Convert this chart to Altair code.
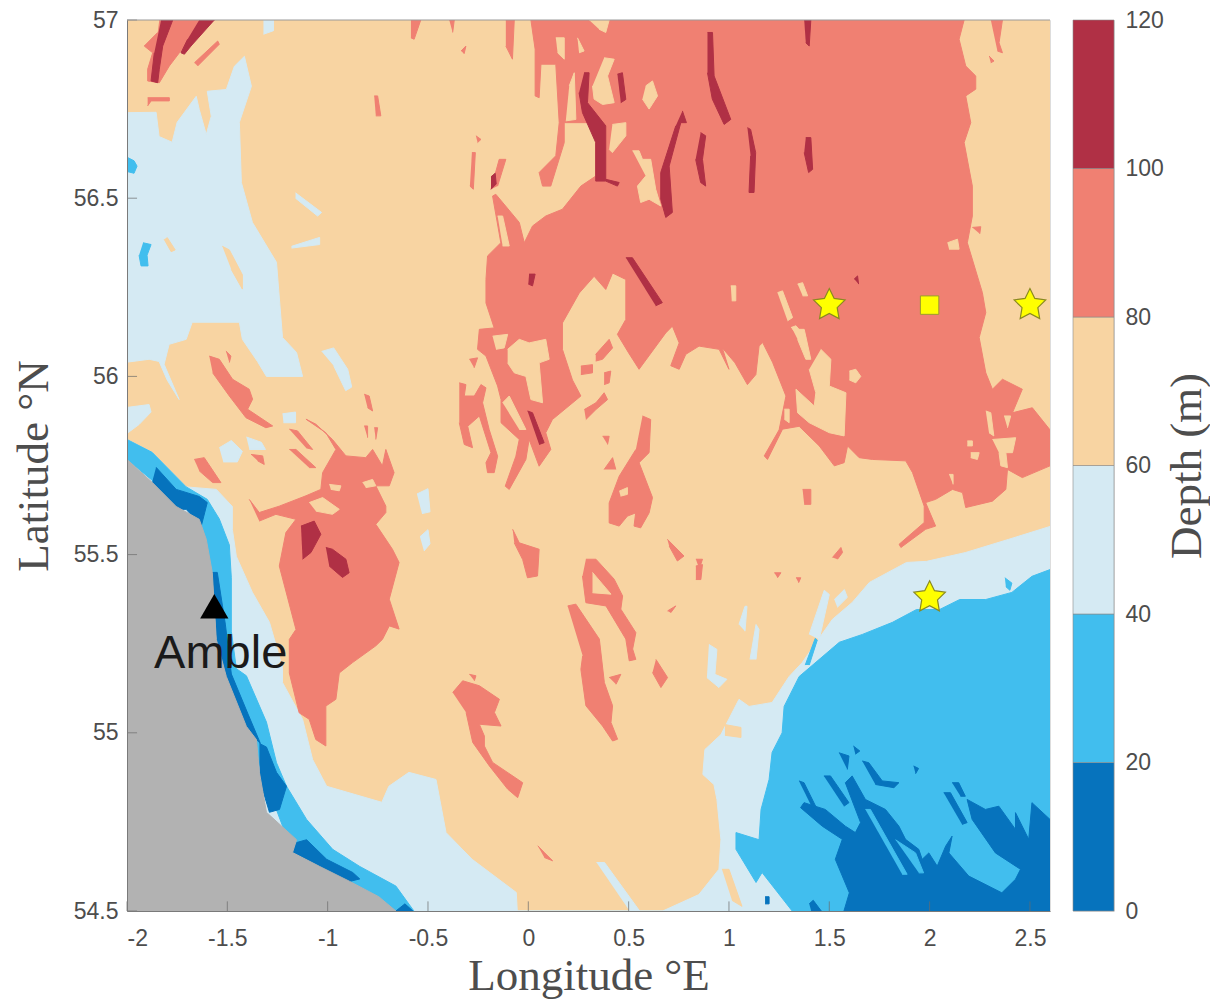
import altair as alt
import pandas as pd

PEACH = "#F8D4A2"
SALMON = "#F08072"
CRIMSON = "#B03045"
PALE = "#D5EAF3"
SKY = "#41BEEE"
DEEP = "#0673BD"
LAND = "#B2B2B2"

BASE_60_80 = [[(-2, 54.5), (2.6, 54.5), (2.6, 57), (-2, 57)]]

BAND_40_60 = [
    [(-2, 56.74), (-1.855, 56.741), (-1.84, 56.673), (-1.775, 56.657), (-1.75, 56.713), (-1.655, 56.786), (-1.64, 56.749), (-1.605, 56.679), (-1.58, 56.73), (-1.6, 56.80), (-1.505, 56.805), (-1.465, 56.87), (-1.415, 56.898), (-1.38, 56.814), (-1.44, 56.713), (-1.43, 56.544), (-1.375, 56.432), (-1.255, 56.32), (-1.225, 56.109), (-1.155, 56.067), (-1.125, 56.0), (-1.305, 56.0), (-1.35, 56.042), (-1.425, 56.104), (-1.44, 56.152), (-1.675, 56.152), (-1.705, 56.104), (-1.79, 56.09), (-1.815, 56.034), (-1.74, 55.935), (-1.80, 55.99), (-1.84, 56.042), (-1.89, 56.048), (-2, 56.04)],
    [(-2, 55.913), (-1.89, 55.921), (-1.88, 55.90), (-1.94, 55.865), (-2, 55.84)],
    [(-2, 55.823), (-1.875, 55.787), (-1.705, 55.69), (-1.555, 55.683), (-1.475, 55.635), (-1.475, 55.571), (-1.455, 55.495), (-1.375, 55.394), (-1.29, 55.31), (-1.225, 55.183), (-1.225, 55.141), (-1.125, 55.038), (-1.075, 54.925), (-1.005, 54.85), (-0.73, 54.805), (-0.695, 54.85), (-0.595, 54.889), (-0.46, 54.869), (-0.41, 54.72), (-0.28, 54.645), (-0.06, 54.552), (-0.055, 54.5), (0.67, 54.5), (0.85, 54.546), (0.95, 54.617), (0.96, 54.70), (0.94, 54.813), (0.925, 54.855), (0.87, 54.883), (0.88, 54.953), (0.96, 54.995), (1.05, 55.094), (1.10, 55.074), (1.215, 55.085), (1.30, 55.158), (1.365, 55.197), (1.515, 55.318), (1.615, 55.366), (1.70, 55.422), (1.885, 55.478), (1.985, 55.481), (2.18, 55.506), (2.395, 55.543), (2.6, 55.579), (2.6, 54.5), (-2, 54.5)],
    [(0.90, 55.248), (0.94, 55.234), (0.93, 55.164), (0.99, 55.15), (0.95, 55.127), (0.89, 55.155)],
    [(1.05, 55.304), (1.08, 55.355), (1.09, 55.355), (1.08, 55.285)],
    [(1.105, 55.206), (1.135, 55.304), (1.15, 55.29), (1.135, 55.206)],
    [(1.40, 55.276), (1.475, 55.40), (1.50, 55.388), (1.45, 55.262)],
    [(1.525, 55.374), (1.575, 55.402), (1.59, 55.38), (1.54, 55.352)],
    [(0.34, 54.636), (0.38, 54.636), (0.555, 54.5), (0.505, 54.5)],
    [(-1.54, 55.80), (-1.48, 55.82), (-1.425, 55.79), (-1.45, 55.76), (-1.52, 55.76)],
    [(-1.405, 55.83), (-1.33, 55.815), (-1.31, 55.795), (-1.39, 55.795)],
    [(-1.03, 56.07), (-0.97, 56.08), (-0.90, 56.02), (-0.88, 55.97), (-0.91, 55.96), (-0.97, 56.03)],
    [(-0.555, 55.67), (-0.50, 55.685), (-0.49, 55.62), (-0.53, 55.615)],
    [(-0.54, 55.55), (-0.50, 55.57), (-0.49, 55.53), (-0.52, 55.51)],
    [(-1.225, 55.895), (-1.16, 55.90), (-1.16, 55.87), (-1.22, 55.87)],
    [(-1.16, 56.515), (-1.03, 56.46), (-1.05, 56.45), (-1.16, 56.50)],
    [(-1.18, 56.365), (-1.04, 56.39), (-1.04, 56.37), (-1.18, 56.36)],
    [(-1.32, 57), (-1.27, 57), (-1.27, 56.97), (-1.32, 56.96)],
]

PEACH_ON_PALE = [
    [(-1.525, 56.365), (-1.49, 56.355), (-1.425, 56.285), (-1.425, 56.245), (-1.48, 56.30)],
    [(-1.80, 56.39), (-1.76, 56.355), (-1.78, 56.35), (-1.815, 56.385)],
    [(0.98, 55.023), (1.06, 55.015), (1.06, 54.987), (0.98, 54.993)],
    [(0.965, 54.617), (1.0, 54.617), (1.065, 54.513), (1.015, 54.53)],
]

BAND_20_40 = [
    [(-2, 55.823), (-1.875, 55.787), (-1.705, 55.69), (-1.60, 55.655), (-1.54, 55.60), (-1.49, 55.527), (-1.48, 55.435), (-1.48, 55.285), (-1.455, 55.18), (-1.405, 55.16), (-1.305, 55.03), (-1.255, 54.916), (-1.205, 54.85), (-1.105, 54.757), (-0.975, 54.673), (-0.84, 54.625), (-0.66, 54.57), (-0.57, 54.5), (-0.66, 54.5), (-1.175, 54.664), (-1.505, 55.158), (-1.64, 55.599), (-2, 55.767)],
    [(2.6, 55.458), (2.51, 55.439), (2.41, 55.394), (2.28, 55.374), (2.15, 55.374), (2.05, 55.346), (1.935, 55.346), (1.815, 55.31), (1.665, 55.276), (1.55, 55.254), (1.35, 55.158), (1.275, 55.074), (1.265, 55.0), (1.215, 54.945), (1.20, 54.869), (1.16, 54.785), (1.15, 54.70), (1.035, 54.72), (1.035, 54.673), (1.135, 54.58), (1.165, 54.608), (1.315, 54.5), (2.6, 54.5)],
    [(-2, 56.615), (-1.965, 56.605), (-1.95, 56.59), (-1.965, 56.57), (-2, 56.575)],
    [(-1.92, 56.375), (-1.88, 56.37), (-1.90, 56.34), (-1.895, 56.31), (-1.93, 56.31), (-1.94, 56.34)],
    [(2.375, 55.435), (2.41, 55.42), (2.40, 55.40), (2.38, 55.41)],
    [(1.38, 55.19), (1.43, 55.265), (1.44, 55.26), (1.40, 55.19)],
]

BAND_0_20 = [
    [(-1.855, 55.745), (-1.755, 55.683), (-1.64, 55.663), (-1.60, 55.646), (-1.63, 55.58), (-1.705, 55.627), (-1.79, 55.627), (-1.875, 55.703)],
    [(-1.575, 55.45), (-1.55, 55.45), (-1.51, 55.305), (-1.48, 55.165), (-1.395, 55.05), (-1.335, 54.97), (-1.355, 54.981), (-1.405, 55.018), (-1.505, 55.158), (-1.555, 55.262)],
    [(-1.34, 54.97), (-1.305, 54.96), (-1.255, 54.889), (-1.205, 54.85), (-1.24, 54.785), (-1.29, 54.777), (-1.34, 54.87)],
    [(-1.175, 54.664), (-1.155, 54.692), (-1.105, 54.70), (-1.005, 54.645), (-0.875, 54.608), (-0.84, 54.59), (-0.89, 54.583), (-1.04, 54.625)],
    [(-0.66, 54.5), (-0.615, 54.52), (-0.575, 54.5)],
    [(1.573, 54.5), (1.60, 54.551), (1.53, 54.645), (1.565, 54.701), (1.465, 54.738), (1.357, 54.79), (1.374, 54.804), (1.48, 54.785), (1.58, 54.738), (1.63, 54.72), (1.656, 54.748), (1.58, 54.86), (1.614, 54.879), (1.68, 54.813), (1.78, 54.785), (1.847, 54.738), (1.88, 54.701), (1.946, 54.673), (1.963, 54.645), (1.996, 54.663), (2.038, 54.626), (2.08, 54.682), (2.112, 54.71), (2.096, 54.663), (2.195, 54.598), (2.36, 54.551), (2.428, 54.589), (2.453, 54.617), (2.328, 54.663), (2.212, 54.757), (2.187, 54.813), (2.278, 54.785), (2.345, 54.794), (2.428, 54.729), (2.428, 54.776), (2.494, 54.701), (2.51, 54.804), (2.6, 54.757), (2.6, 54.5)],
    [(1.349, 54.865), (1.374, 54.86), (1.432, 54.794), (1.415, 54.79)],
    [(1.473, 54.879), (1.506, 54.879), (1.598, 54.804), (1.573, 54.794)],
    [(1.664, 54.921), (1.697, 54.916), (1.764, 54.865), (1.847, 54.86), (1.822, 54.846), (1.73, 54.855)],
    [(1.548, 54.944), (1.598, 54.935), (1.59, 54.897)],
    [(1.62, 54.963), (1.652, 54.949), (1.63, 54.94)],
    [(1.92, 54.907), (1.945, 54.90), (1.93, 54.885)],
    [(2.07, 54.832), (2.104, 54.832), (2.187, 54.748), (2.162, 54.743)],
    [(2.112, 54.86), (2.145, 54.86), (2.178, 54.822), (2.154, 54.822)],
    [(1.18, 54.54), (1.20, 54.54), (1.20, 54.52), (1.18, 54.52)],
    [(1.40, 54.52), (1.42, 54.53), (1.46, 54.50), (1.41, 54.50)],
]

SKY_ON_DEEP = [
    [(1.68, 54.785), (1.705, 54.785), (1.888, 54.603), (1.863, 54.603)],
    [(1.83, 54.70), (1.93, 54.663), (1.97, 54.607), (1.946, 54.607)],
]

LAND_OUTLINE = [[(-2, 54.5), (-0.66, 54.5), (-0.745, 54.54), (-0.89, 54.583), (-1.04, 54.625), (-1.175, 54.664), (-1.155, 54.70), (-1.305, 54.777), (-1.34, 54.889), (-1.355, 54.981), (-1.405, 55.018), (-1.505, 55.158), (-1.555, 55.262), (-1.575, 55.45), (-1.605, 55.543), (-1.64, 55.599), (-1.755, 55.635), (-1.875, 55.703), (-2, 55.767)]]

BAND_80_100 = [
    [(2.172, 57.0), (2.147, 56.946), (2.18, 56.871), (2.23, 56.843), (2.23, 56.806), (2.18, 56.787), (2.205, 56.712), (2.172, 56.656), (2.213, 56.534), (2.213, 56.45), (2.188, 56.375), (2.263, 56.235), (2.28, 56.179), (2.247, 56.109), (2.28, 56.01), (2.313, 55.964), (2.363, 55.992), (2.462, 55.964), (2.413, 55.898), (2.512, 55.912), (2.6, 55.85), (2.6, 55.749), (2.462, 55.716), (2.388, 55.739), (2.38, 55.683), (2.313, 55.65), (2.18, 55.632), (2.164, 55.674), (2.114, 55.683), (2.03, 55.655), (1.98, 55.646), (2.03, 55.58), (1.98, 55.571), (1.857, 55.52), (1.848, 55.529), (1.973, 55.59), (1.973, 55.636), (1.915, 55.73), (1.881, 55.763), (1.715, 55.767), (1.649, 55.772), (1.591, 55.805), (1.574, 55.758), (1.525, 55.749), (1.45, 55.805), (1.35, 55.86), (1.267, 55.852), (1.192, 55.767), (1.176, 55.777), (1.25, 55.85), (1.284, 55.945), (1.217, 56.04), (1.168, 56.095), (1.15, 56.085), (1.134, 56.005), (1.092, 55.977), (1.03, 56.038), (0.967, 56.08), (1.0, 56.02), (0.951, 56.076), (0.851, 56.085), (0.785, 56.062), (0.752, 56.02), (0.71, 56.03), (0.752, 56.094), (0.718, 56.141), (0.685, 56.122), (0.552, 56.02), (0.50, 56.066), (0.444, 56.118), (0.486, 56.16), (0.486, 56.272), (0.42, 56.29), (0.386, 56.244), (0.328, 56.281), (0.254, 56.234), (0.17, 56.15), (0.17, 56.076), (0.22, 55.99), (0.262, 55.945), (0.12, 55.879), (0.087, 55.842), (0.112, 55.795), (0.054, 55.748), (0.004, 55.823), (-0.012, 55.767), (-0.095, 55.683), (-0.115, 55.692), (-0.062, 55.776), (-0.045, 55.823), (-0.136, 55.87), (-0.136, 55.935), (-0.153, 55.973), (-0.211, 56.057), (-0.253, 56.076), (-0.244, 56.132), (-0.17, 56.136), (-0.211, 56.206), (-0.211, 56.272), (-0.203, 56.338), (-0.137, 56.375), (-0.178, 56.506), (-0.162, 56.511), (-0.045, 56.432), (-0.02, 56.375), (0.021, 56.422), (0.087, 56.45), (0.17, 56.469), (0.262, 56.534), (0.336, 56.562), (0.336, 56.693), (0.32, 56.712), (0.179, 56.712), (0.179, 56.656), (0.112, 56.534), (0.071, 56.534), (0.054, 56.572), (0.137, 56.619), (0.154, 56.712), (0.137, 56.876), (0.063, 56.876), (0.054, 56.782), (0.034, 56.787), (0.034, 56.918), (0.013, 57.0)],
    [(-0.344, 55.982), (-0.311, 55.977), (-0.319, 55.945), (-0.269, 55.945), (-0.236, 55.977), (-0.211, 55.968), (-0.228, 55.926), (-0.195, 55.851), (-0.153, 55.776), (-0.17, 55.73), (-0.203, 55.73), (-0.211, 55.758), (-0.186, 55.786), (-0.244, 55.889), (-0.302, 55.86), (-0.278, 55.8), (-0.319, 55.809), (-0.344, 55.87)],
    [(-0.294, 56.048), (-0.253, 56.052), (-0.27, 56.024)],
    [(0.262, 56.029), (0.32, 56.033), (0.32, 56.01), (0.262, 56.005)],
    [(0.336, 56.062), (0.403, 56.104), (0.42, 56.08), (0.37, 56.048), (0.336, 56.043)],
    [(0.378, 56.01), (0.411, 56.015), (0.403, 55.982), (0.378, 55.977)],
    [(0.279, 55.907), (0.337, 55.926), (0.378, 55.954), (0.395, 55.935), (0.337, 55.907), (0.287, 55.879)],
    [(0.37, 55.832), (0.403, 55.832), (0.395, 55.809)],
    [(0.378, 55.739), (0.42, 55.772), (0.436, 55.739)],
    [(0.569, 55.889), (0.61, 55.879), (0.602, 55.786), (0.552, 55.758), (0.619, 55.66), (0.602, 55.617), (0.56, 55.575), (0.527, 55.58), (0.535, 55.617), (0.494, 55.608), (0.453, 55.58), (0.403, 55.589), (0.403, 55.645), (0.453, 55.72), (0.536, 55.795)],
    [(-0.078, 55.571), (-0.045, 55.533), (0.054, 55.515), (0.046, 55.44), (-0.004, 55.435), (-0.028, 55.486), (-0.07, 55.533)],
    [(0.693, 55.543), (0.776, 55.496), (0.743, 55.482), (0.702, 55.524)],
    [(0.835, 55.468), (0.868, 55.472), (0.86, 55.43), (0.835, 55.43)],
    [(0.287, 55.487), (0.337, 55.487), (0.428, 55.431), (0.47, 55.384), (0.461, 55.347), (0.536, 55.281), (0.52, 55.235), (0.536, 55.206), (0.503, 55.202), (0.486, 55.263), (0.387, 55.356), (0.287, 55.365), (0.27, 55.44)],
    [(0.196, 55.356), (0.237, 55.361), (0.354, 55.263), (0.379, 55.141), (0.42, 55.076), (0.412, 55.029), (0.445, 54.982), (0.42, 54.977), (0.37, 55.019), (0.287, 55.076), (0.262, 55.178), (0.271, 55.216)],
    [(0.403, 55.155), (0.461, 55.164), (0.437, 55.136)],
    [(0.636, 55.206), (0.694, 55.155), (0.661, 55.127), (0.619, 55.169)],
    [(0.694, 55.342), (0.735, 55.356), (0.71, 55.337)],
    [(-0.377, 55.113), (-0.327, 55.146), (-0.244, 55.132), (-0.144, 55.094), (-0.169, 55.057), (-0.136, 55.019), (-0.244, 55.024), (-0.219, 54.991), (-0.219, 54.963), (-0.178, 54.917), (-0.028, 54.86), (-0.053, 54.818), (-0.103, 54.842), (-0.194, 54.907), (-0.277, 54.973), (-0.31, 55.057)],
    [(-0.02, 55.487), (0.047, 55.487), (0.038, 55.464), (-0.003, 55.464)],
    [(0.835, 55.487), (0.868, 55.487), (0.852, 55.46)],
    [(0.047, 54.683), (0.08, 54.664), (0.121, 54.641), (0.08, 54.65)],
    [(-0.294, 55.164), (-0.261, 55.16), (-0.269, 55.146)],
    [(-1.59, 56.057), (-1.54, 56.048), (-1.474, 55.992), (-1.391, 55.964), (-1.374, 55.936), (-1.399, 55.908), (-1.274, 55.861), (-1.308, 55.856), (-1.407, 55.884), (-1.49, 55.945), (-1.573, 56.01)],
    [(-1.665, 55.767), (-1.615, 55.772), (-1.532, 55.702), (-1.573, 55.702), (-1.64, 55.735)],
    [(-1.391, 55.655), (-1.341, 55.618), (-1.241, 55.636), (-1.108, 55.665), (-1.034, 55.683), (-1.025, 55.73), (-0.959, 55.795), (-1.009, 55.842), (-1.108, 55.88), (-1.059, 55.866), (-0.976, 55.823), (-0.909, 55.777), (-0.81, 55.772), (-0.776, 55.795), (-0.727, 55.749), (-0.71, 55.795), (-0.669, 55.73), (-0.693, 55.693), (-0.76, 55.693), (-0.71, 55.636), (-0.71, 55.618), (-0.76, 55.585), (-0.677, 55.515), (-0.644, 55.478), (-0.693, 55.375), (-0.644, 55.291), (-0.693, 55.30), (-0.727, 55.262), (-0.76, 55.244), (-0.876, 55.197), (-0.942, 55.168), (-0.959, 55.094), (-1.009, 55.075), (-1.009, 54.963), (-1.059, 54.981), (-1.092, 55.038), (-1.142, 55.056), (-1.191, 55.168), (-1.191, 55.262), (-1.158, 55.29), (-1.241, 55.468), (-1.208, 55.562), (-1.158, 55.599), (-1.258, 55.613), (-1.341, 55.594)],
    [(-1.191, 55.852), (-1.15, 55.847), (-1.075, 55.795), (-1.108, 55.8)],
    [(-1.191, 55.795), (-1.158, 55.795), (-1.059, 55.744), (-1.092, 55.744)],
    [(-1.382, 55.781), (-1.324, 55.777), (-1.316, 55.753), (-1.349, 55.763)],
    [(-1.507, 56.071), (-1.482, 56.057), (-1.49, 56.039)],
    [(-0.818, 55.95), (-0.793, 55.945), (-0.776, 55.903), (-0.801, 55.912)],
    [(-0.818, 55.861), (-0.801, 55.861), (-0.801, 55.828)],
    [(-0.768, 55.856), (-0.751, 55.856), (-0.76, 55.823)],
    [(-1.839, 57), (-1.565, 57), (-1.64, 56.965), (-1.698, 56.937), (-1.739, 56.908), (-1.789, 56.871), (-1.839, 56.824), (-1.897, 56.829), (-1.897, 56.862), (-1.872, 56.908), (-1.914, 56.927), (-1.847, 56.965)],
    [(-1.664, 56.88), (-1.548, 56.941), (-1.54, 56.932), (-1.648, 56.871)],
    [(-1.897, 56.782), (-1.789, 56.782), (-1.789, 56.773), (-1.88, 56.773), (-1.897, 56.759)],
    [(-0.768, 56.787), (-0.751, 56.787), (-0.735, 56.731), (-0.76, 56.731)],
    [(-0.585, 57), (-0.536, 57), (-0.569, 56.946), (-0.585, 56.95)],
    [(-0.394, 57), (-0.369, 57), (-0.377, 56.965)],
    [(-0.112, 57), (-0.07, 57), (-0.079, 56.89), (-0.112, 56.927)],
    [(-0.335, 56.913), (-0.311, 56.927), (-0.32, 56.905)],
    [(-0.281, 56.628), (-0.264, 56.628), (-0.274, 56.525), (-0.291, 56.534)],
    [(-0.186, 56.525), (-0.145, 56.609), (-0.112, 56.609), (-0.153, 56.534)],
    [(-0.261, 56.675), (-0.236, 56.665), (-0.253, 56.656)],
    [(2.305, 57), (2.363, 57), (2.346, 56.936), (2.363, 56.908), (2.338, 56.913)],
    [(2.296, 56.899), (2.321, 56.885), (2.305, 56.88)],
    [(2.213, 56.418), (2.255, 56.42), (2.25, 56.40)],
    [(1.367, 55.683), (1.408, 55.683), (1.408, 55.641), (1.375, 55.641)],
    [(1.516, 55.492), (1.558, 55.52), (1.566, 55.506), (1.541, 55.487)],
    [(1.226, 55.449), (1.259, 55.449), (1.242, 55.435)],
    [(1.334, 55.435), (1.358, 55.435), (1.347, 55.421)],
]

PEACH_ON_SALMON = [
    [(0.303, 57.0), (0.403, 57.0), (0.386, 56.965), (0.353, 56.974)],
    [(0.137, 56.95), (0.179, 56.95), (0.179, 56.89), (0.146, 56.908)],
    [(0.245, 56.95), (0.278, 56.913), (0.253, 56.908)],
    [(0.378, 56.894), (0.428, 56.89), (0.395, 56.843), (0.428, 56.768), (0.37, 56.763), (0.328, 56.778), (0.32, 56.815)],
    [(0.204, 56.815), (0.229, 56.852), (0.237, 56.721), (0.187, 56.717)],
    [(0.585, 56.815), (0.619, 56.829), (0.644, 56.787), (0.602, 56.75), (0.569, 56.778)],
    [(0.419, 56.707), (0.486, 56.712), (0.486, 56.675), (0.419, 56.628), (0.403, 56.637)],
    [(0.519, 56.633), (0.552, 56.633), (0.569, 56.609), (0.61, 56.609), (0.635, 56.525), (0.66, 56.478), (0.602, 56.497), (0.56, 56.488), (0.544, 56.534), (0.585, 56.562)],
    [(-0.153, 56.45), (-0.128, 56.45), (-0.095, 56.366), (-0.128, 56.366)],
    [(1.009, 56.254), (1.034, 56.254), (1.034, 56.212), (1.014, 56.212)],
    [(2.089, 56.375), (2.139, 56.385), (2.147, 56.357), (2.097, 56.357)],
    [(1.242, 56.235), (1.267, 56.24), (1.317, 56.165), (1.292, 56.156)],
    [(1.342, 56.259), (1.367, 56.263), (1.392, 56.226), (1.367, 56.226)],
    [(1.309, 56.137), (1.334, 56.142), (1.383, 56.109), (1.35, 56.109)],
    [(1.317, 56.132), (1.375, 56.132), (1.408, 56.048), (1.383, 56.048), (1.342, 56.104)],
    [(1.458, 56.076), (1.508, 56.048), (1.50, 55.973), (1.583, 55.954), (1.574, 55.833), (1.50, 55.842), (1.40, 55.87), (1.342, 55.898), (1.334, 55.964), (1.425, 55.917), (1.433, 55.954), (1.40, 56.02)],
    [(1.6, 56.015), (1.632, 56.02), (1.657, 56.0), (1.632, 55.982), (1.6, 55.99)],
    [(1.276, 55.908), (1.30, 55.908), (1.30, 55.87), (1.276, 55.88)],
    [(2.28, 55.903), (2.305, 55.898), (2.32, 55.833), (2.296, 55.842)],
    [(2.371, 55.889), (2.404, 55.889), (2.388, 55.856)],
    [(2.313, 55.823), (2.429, 55.828), (2.413, 55.786), (2.38, 55.786), (2.388, 55.744), (2.355, 55.749), (2.346, 55.786)],
    [(2.188, 55.819), (2.213, 55.819), (2.213, 55.805), (2.188, 55.805)],
    [(2.205, 55.786), (2.247, 55.786), (2.238, 55.767), (2.205, 55.772)],
    [(2.097, 55.725), (2.117, 55.725), (2.117, 55.697)],
    [(-0.178, 56.113), (-0.103, 56.118), (-0.12, 56.08), (-0.161, 56.076)],
    [(-0.103, 56.076), (-0.045, 56.104), (0.004, 56.094), (0.087, 56.104), (0.104, 56.048), (0.054, 56.038), (0.071, 55.926), (0.013, 55.935), (-0.012, 56.0), (-0.07, 56.01), (-0.103, 56.038)],
    [(-0.128, 55.926), (-0.095, 55.945), (-0.012, 55.851), (-0.045, 55.851)],
    [(0.453, 55.678), (0.494, 55.688), (0.494, 55.669), (0.46, 55.664)],
    [(0.32, 55.45), (0.412, 55.389), (0.32, 55.393)],
    [(-1.092, 55.646), (-1.025, 55.66), (-0.942, 55.627), (-0.976, 55.613), (-1.059, 55.622)],
    [(-0.826, 55.702), (-0.776, 55.711), (-0.76, 55.693), (-0.81, 55.688)],
    [(-0.992, 55.697), (-0.934, 55.693), (-0.942, 55.679), (-0.984, 55.683)],
]

BAND_100_120 = [
    [(0.278, 56.852), (0.303, 56.852), (0.295, 56.768), (0.386, 56.703), (0.386, 56.553), (0.453, 56.544), (0.444, 56.534), (0.386, 56.548), (0.336, 56.548), (0.336, 56.656), (0.27, 56.74), (0.253, 56.796)],
    [(0.444, 56.848), (0.469, 56.852), (0.486, 56.777), (0.461, 56.768)],
    [(0.893, 56.965), (0.918, 56.965), (0.926, 56.843), (1.009, 56.721), (0.976, 56.707), (0.917, 56.778), (0.893, 56.852)],
    [(0.768, 56.745), (0.788, 56.712), (0.76, 56.712), (0.702, 56.59), (0.718, 56.46), (0.685, 56.446), (0.66, 56.497), (0.66, 56.572), (0.735, 56.703)],
    [(0.859, 56.684), (0.884, 56.675), (0.868, 56.609), (0.884, 56.534), (0.859, 56.544), (0.834, 56.609)],
    [(1.092, 56.698), (1.108, 56.693), (1.133, 56.628), (1.125, 56.516), (1.1, 56.516), (1.108, 56.619)],
    [(0.486, 56.333), (0.519, 56.333), (0.668, 56.207), (0.635, 56.198)],
    [(0.004, 56.287), (0.034, 56.287), (0.021, 56.254), (0.0, 56.259)],
    [(1.375, 57), (1.408, 57), (1.40, 56.927), (1.383, 56.936)],
    [(1.383, 56.67), (1.408, 56.67), (1.417, 56.581), (1.397, 56.572), (1.375, 56.628)],
    [(1.624, 56.273), (1.641, 56.282), (1.646, 56.259)],
    [(-0.004, 55.903), (0.021, 55.898), (0.079, 55.814), (0.054, 55.809)],
    [(-1.83, 57), (-1.772, 57), (-1.822, 56.927), (-1.839, 56.862), (-1.847, 56.824), (-1.88, 56.829), (-1.864, 56.908)],
    [(-1.64, 57), (-1.565, 57), (-1.681, 56.927), (-1.714, 56.904), (-1.731, 56.908), (-1.698, 56.946)],
    [(-1.133, 55.58), (-1.067, 55.594), (-1.034, 55.557), (-1.083, 55.506), (-1.125, 55.487)],
    [(-1.009, 55.52), (-0.976, 55.515), (-0.909, 55.487), (-0.893, 55.449), (-0.926, 55.436), (-0.992, 55.468)],
    [(-0.186, 56.56), (-0.165, 56.57), (-0.16, 56.54), (-0.186, 56.525)],
]

LAYER_ORDER = [
    (BASE_60_80, PEACH), (BAND_40_60, PALE), (PEACH_ON_PALE, PEACH),
    (BAND_20_40, SKY), (BAND_0_20, DEEP), (SKY_ON_DEEP, SKY), (LAND_OUTLINE, LAND),
    (BAND_80_100, SALMON), (PEACH_ON_SALMON, PEACH), (BAND_100_120, CRIMSON),
]

STAR_LON = [1.5, 2.5, 2.0]
STAR_LAT = [56.2, 56.2, 55.38]
SQUARE_LON = [2.0]
SQUARE_LAT = [56.2]
AMBLE_LON = [-1.565]
AMBLE_LAT = [55.355]
LABEL_LON = [-1.865]
LABEL_LAT = [55.183]
LABEL_TEXT = ["Amble"]

X_TICKS = [-2, -1.5, -1, -0.5, 0, 0.5, 1, 1.5, 2, 2.5]
Y_TICKS = [54.5, 55, 55.5, 56, 56.5, 57]
BAR_LOW = [0, 20, 40, 60, 80, 100]
BAR_HIGH = [20, 40, 60, 80, 100, 120]
BAR_COLORS = [DEEP, SKY, PALE, PEACH, SALMON, CRIMSON]
BAR_TICKS = [0, 20, 40, 60, 80, 100, 120]

STAR_PATH = "M0,-1L0.294,-0.405L0.951,-0.309L0.476,0.155L0.588,0.809L0,0.5L-0.588,0.809L-0.476,0.155L-0.951,-0.309L-0.294,-0.405Z"

GREY = "#4d4d4d"
TICK_FONT = 23
TITLE_FONT = 45
x_scale = alt.Scale(domain=[-2, 2.6], nice=False, zero=False)
y_scale = alt.Scale(domain=[54.5, 57], nice=False, zero=False)
x_axis = alt.Axis(
    values=X_TICKS, labelExpr="'' + datum.value", title="Longitude °E", grid=False, tickSize=0,
    domainColor="#7a7a7a", zindex=1, labelFont="Liberation Sans", labelFontSize=TICK_FONT, labelColor=GREY,
    labelPadding=16, titleFont="Liberation Serif", titleFontSize=TITLE_FONT, titleFontWeight="normal",
    titleColor=GREY, titlePadding=3)
y_axis = alt.Axis(
    values=Y_TICKS, labelExpr="'' + datum.value", title="Latitude °N", grid=False, tickSize=0,
    domainColor="#7a7a7a", zindex=1, labelFont="Liberation Sans", labelFontSize=TICK_FONT, labelColor=GREY,
    labelPadding=9, titleFont="Liberation Serif", titleFontSize=TITLE_FONT, titleFontWeight="normal",
    titleColor=GREY, titlePadding=17)
x_enc = alt.X("lon:Q", scale=x_scale, axis=x_axis)
y_enc = alt.Y("lat:Q", scale=y_scale, axis=y_axis)

layers = []
for idx, (polys, colour) in enumerate(LAYER_ORDER):
    rows = [{"poly": p, "i": i, "lon": v[0], "lat": v[1]} for p, poly in enumerate(polys) for i, v in enumerate(poly)]
    layers.append(alt.Chart(pd.DataFrame(rows)).mark_line(
        fill=colour, stroke=colour, strokeWidth=1.0, strokeJoin="round", interpolate="linear", clip=True
    ).encode(x=x_enc, y=y_enc, detail="poly:N", order="i:Q"))

stars = alt.Chart(pd.DataFrame({"lon": STAR_LON, "lat": STAR_LAT})).mark_point(
    shape=STAR_PATH, size=1100, filled=True, fill="#FFFF00", stroke="#8a8a20", strokeWidth=1.2, opacity=1
).encode(x=x_enc, y=y_enc)
square = alt.Chart(pd.DataFrame({"lon": SQUARE_LON, "lat": SQUARE_LAT})).mark_square(
    size=340, fill="#FFFF00", stroke="#9a9a30", strokeWidth=1, opacity=1
).encode(x=x_enc, y=y_enc)
amble = alt.Chart(pd.DataFrame({"lon": AMBLE_LON, "lat": AMBLE_LAT})).mark_point(
    shape="triangle-up", size=800, filled=True, fill="#000000", opacity=1
).encode(x=x_enc, y=y_enc)
label = alt.Chart(pd.DataFrame({"lon": LABEL_LON, "lat": LABEL_LAT, "t": LABEL_TEXT})).mark_text(
    align="left", baseline="alphabetic", font="Liberation Sans", fontSize=47, color="#1a1a1a"
).encode(x=x_enc, y=y_enc, text="t:N")
top_edge = alt.Chart(pd.DataFrame({"lat": [57]})).mark_rule(color="#9a9a9a", strokeWidth=1).encode(y=y_enc)
tick_x = alt.Chart(pd.DataFrame({"lon": X_TICKS, "a": [54.5] * len(X_TICKS), "b": [54.527] * len(X_TICKS)})).mark_rule(color="#6a6a6a", strokeWidth=0.7).encode(
    x=x_enc, y=alt.Y("a:Q", scale=y_scale, axis=y_axis), y2="b:Q")
tick_y = alt.Chart(pd.DataFrame({"lat": Y_TICKS, "a": [-2] * len(Y_TICKS), "b": [-1.95] * len(Y_TICKS)})).mark_rule(color="#6a6a6a", strokeWidth=0.7).encode(
    y=y_enc, x=alt.X("a:Q", scale=x_scale, axis=x_axis), x2="b:Q")

main = alt.layer(*layers, tick_x, tick_y, top_edge, stars, square, amble, label).properties(width=923, height=891)

bar_df = pd.DataFrame({"low": BAR_LOW, "high": BAR_HIGH, "c": BAR_COLORS})
bar = alt.Chart(bar_df).mark_rect(stroke="#8a8a8a", strokeWidth=0.6).encode(
    y=alt.Y("low:Q", scale=alt.Scale(domain=[0, 120], nice=False), axis=alt.Axis(
        orient="right", values=BAR_TICKS, grid=False, tickSize=0, domain=False, labelFont="Liberation Sans",
        labelFontSize=TICK_FONT, labelColor=GREY, labelPadding=11, title="Depth (m)", titleFont="Liberation Serif",
        titleAngle=270, titleFontSize=TITLE_FONT, titleFontWeight="normal", titleColor=GREY, titlePadding=46)),
    y2="high:Q",
    fill=alt.Fill("c:N", scale=None),
).properties(width=41, height=891)

chart = alt.hconcat(main, bar, spacing=21).properties(padding={"left": 2, "top": 0, "right": 0, "bottom": 0}
).configure_view(stroke=None).configure(background="white")
chart.save("out.html", embed_options={"renderer": "svg", "actions": False})
